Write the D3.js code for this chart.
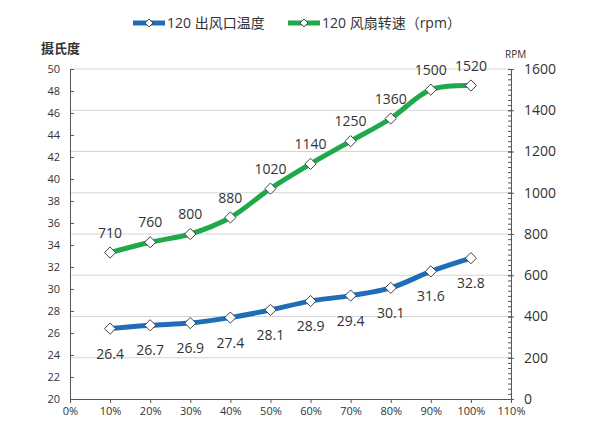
<!DOCTYPE html>
<html>
<head>
<meta charset="utf-8">
<script src="https://cdn.jsdelivr.net/npm/d3@7"></script>
<style>
  body { margin: 0; background: #fff; }
  text { font-family: "Open Sans", "Noto Sans CJK SC", sans-serif; fill: #333; }
</style>
</head>
<body>
<svg id="chart" width="600" height="433"></svg>
<script>
// data
var loads = [0.1, 0.2, 0.3, 0.4, 0.5, 0.6, 0.7, 0.8, 0.9, 1.0];
var tempValues = [26.4, 26.7, 26.9, 27.4, 28.1, 28.9, 29.4, 30.1, 31.6, 32.8];
var rpmValues = [710, 760, 800, 880, 1020, 1140, 1250, 1360, 1500, 1520];
var seriesNames = ["120 出风口温度", "120 风扇转速（rpm）"];
var xTicks = [0, 0.1, 0.2, 0.3, 0.4, 0.5, 0.6, 0.7, 0.8, 0.9, 1.0, 1.1];
var leftTicks = d3.range(20, 51, 2);
var rightTicks = d3.range(0, 1601, 200);

var BLUE = "#1f6db6", GREEN = "#1fa94b";

var margin = {top: 69, right: 89, bottom: 34, left: 70};
var W = 600, H = 433;
var width = W - margin.left - margin.right,
    height = H - margin.top - margin.bottom;

var svg = d3.select("#chart");
var g = svg.append("g").attr("transform", "translate(" + margin.left + "," + margin.top + ")");

var x = d3.scaleLinear().domain([0, 1.1]).range([0, width]);
var yL = d3.scaleLinear().domain([20, 50]).range([height, 0]);
var yR = d3.scaleLinear().domain([0, 1600]).range([height, 0]);

// gridlines (follow the rpm axis)
g.append("g").selectAll("line").data(rightTicks.slice(1)).enter().append("line")
  .attr("x1", 0).attr("x2", width)
  .attr("y1", d => yR(d)).attr("y2", d => yR(d))
  .attr("stroke", "#d4d4d4").attr("stroke-width", 1);

// left axis, ticks pointing inward
var leftAxis = g.append("g")
  .call(d3.axisLeft(yL).tickValues(leftTicks).tickSizeInner(-4).tickSizeOuter(0).tickPadding(10));
leftAxis.selectAll("text").style("font-size", "11px");

// right axis: minor ticks, then major ticks crossing the line
g.append("g").attr("transform", "translate(" + width + ",0)")
  .call(d3.axisRight(yR).tickValues(d3.range(0, 1601, 25)).tickSizeInner(-3).tickSizeOuter(0).tickFormat(""))
  .call(a => a.select(".domain").remove());
var rightAxis = g.append("g").attr("transform", "translate(" + width + ",0)")
  .call(d3.axisRight(yR).tickValues(rightTicks).tickFormat(d3.format("d"))
    .tickSizeInner(3).tickSizeOuter(0).tickPadding(10));
rightAxis.selectAll(".tick line").attr("x1", -3);
rightAxis.selectAll("text").style("font-size", "14px");

// x axis
var xAxis = g.append("g").attr("transform", "translate(0," + height + ")")
  .call(d3.axisBottom(x).tickValues(xTicks).tickFormat(d3.format(".0%")).tickSizeInner(4).tickSizeOuter(0).tickPadding(4));
xAxis.selectAll("text").style("font-size", "11px");

g.selectAll(".domain").attr("stroke", "#555");
g.selectAll(".tick line").attr("stroke", "#555");

// axis titles
svg.append("text").attr("x", 41).attr("y", 53)
  .style("font-size", "13px").style("font-weight", "bold").text("摄氏度");
svg.append("text").attr("x", 505).attr("y", 58)
  .style("font-size", "10px").text("RPM");

var diamond = d3.symbol().type(d3.symbolDiamond2).size(80);

function drawSeries(values, yScale, color, above) {
  var pts = loads.map((l, i) => [x(l), yScale(values[i]), values[i]]);
  var line = d3.line().x(d => d[0]).y(d => d[1]).curve(d3.curveCatmullRom.alpha(0.5));
  g.append("path").datum(pts).attr("d", line)
    .attr("fill", "none").attr("stroke", color).attr("stroke-width", 5)
    .attr("stroke-linecap", "round");
  g.append("g").selectAll("path").data(pts).enter().append("path")
    .attr("d", diamond)
    .attr("transform", d => "translate(" + d[0] + "," + d[1] + ")")
    .attr("fill", "#fff").attr("stroke", "#444").attr("stroke-width", 1);
  g.append("g").selectAll("text").data(pts).enter().append("text")
    .attr("x", d => d[0])
    .attr("y", d => above ? d[1] - 15 : d[1] + 30)
    .attr("text-anchor", "middle")
    .style("font-size", "14px")
    .text(d => d[2]);
}

drawSeries(tempValues, yL, BLUE, false);
drawSeries(rpmValues, yR, GREEN, true);

// legend
var legend = svg.append("g").attr("transform", "translate(133,23)");
[BLUE, GREEN].forEach(function(c, i) {
  var lg = legend.append("g").attr("transform", "translate(" + (i * 155) + ",0)");
  lg.append("line").attr("x1", 0).attr("x2", 32).attr("y1", 0).attr("y2", 0)
    .attr("stroke", c).attr("stroke-width", 5);
  lg.append("path").attr("d", d3.symbol().type(d3.symbolDiamond2).size(40))
    .attr("transform", "translate(16,0)")
    .attr("fill", "#fff").attr("stroke", "#444").attr("stroke-width", 1);
  lg.append("text").attr("x", 34).attr("y", 5)
    .style("font-size", "14px").text(seriesNames[i]);
});
</script>
</body>
</html>
